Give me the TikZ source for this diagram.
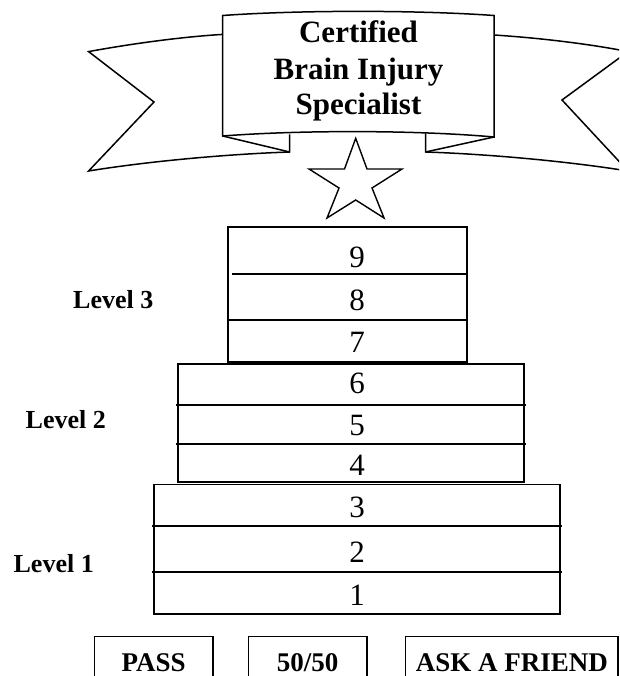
\documentclass[tikz,border=0pt]{standalone}
\usepackage{fontspec}
\setmainfont{Liberation Serif}
\begin{document}
\begin{tikzpicture}[x=1pt,y=-1pt,
  banner/.style={line width=1.5pt,line join=miter},
  tier/.style={line width=1.8pt},
  divider/.style={line width=1.2pt},
  digit/.style={anchor=base,inner sep=0pt,font=\fontsize{31}{33}\selectfont},
  lvl/.style={anchor=base,inner sep=0pt,font=\fontsize{26}{28}\selectfont\bfseries},
  title/.style={anchor=base,inner sep=0pt,font=\fontsize{31}{33}\selectfont\bfseries},
  btn/.style={anchor=base,inner sep=0pt,font=\fontsize{27}{30}\selectfont\bfseries},
  btnbox/.style={line width=1.8pt}]
\useasboundingbox (0,0) rectangle (619,676);
\clip (0,0) rectangle (619,676);
% ---------- banner ----------
% left wing
\draw[banner] (222.7,34.4) .. controls (180,37) and (130,44) .. (88.6,51.6)
  -- (154,102) -- (88.6,171)
  .. controls (150,161) and (230,154) .. (289.7,152) -- (289.7,134.5);
\draw[banner] (222.7,136) -- (289.7,152);
% right wing
\draw[banner] (494,35) .. controls (540,38) and (590,44) .. (628,51.6)
  -- (562,100) -- (628,171)
  .. controls (566,161) and (486,154) .. (425.5,152) -- (425.5,133.5);
\draw[banner] (494,137) -- (425.5,152);
% central panel
\draw[banner] (222.7,15.5) .. controls (300,10) and (416,10) .. (494,15.5)
  -- (494,137) .. controls (416,130) and (300,130) .. (222.7,136) -- cycle;
\node[title] (t1) at (358.5,42.7) {Certified};
\node[title] (t2) at (358.5,79.3) {Brain Injury};
\node[title] (t3) at (358.5,115) {Specialist};
% star
\draw[banner,line width=1.4pt] (355.7,138.3) -- (367,169) -- (402,169) -- (372,188)
  -- (384,218) -- (355.7,200) -- (327,218) -- (339,188) -- (309,169)
  -- (344.5,169) -- cycle;
% ---------- tiers ----------
% level 3
\draw[tier] (228,227) rectangle (467,362);
\draw[divider] (232,274) -- (467,274);
\draw[divider] (228,320) -- (467,320);
% level 2
\draw[tier] (178,364) rectangle (524,482);
\draw[divider] (176,405) -- (526,405);
\draw[divider] (176,444) -- (526,444);
% level 1
\draw[tier] (154,484.5) rectangle (560,614);
\draw[divider] (152,526) -- (562,526);
\draw[divider] (152,572) -- (562,572);
% digits
\node[digit] (d9) at (357,267.5) {9};
\node[digit] (d8) at (357,310.5) {8};
\node[digit] (d7) at (357,352.5) {7};
\node[digit] (d6) at (357,393.5) {6};
\node[digit] (d5) at (357,435.5) {5};
\node[digit] (d4) at (357,475.5) {4};
\node[digit] (d3) at (357,517.5) {3};
\node[digit] (d2) at (357,562.5) {2};
\node[digit] (d1) at (357,605.5) {1};
% level labels
\node[lvl] (l3) at (113.3,308) {Level 3};
\node[lvl] (l2) at (65.8,428) {Level 2};
\node[lvl] (l1) at (53.7,572) {Level 1};
% ---------- buttons ----------
\draw[btnbox] (94.4,636.5) rectangle (213,700);
\draw[btnbox] (248.4,636.5) rectangle (367,700);
\draw[btnbox] (405.5,636.5) rectangle (618,700);
\node[btn] (b1) at (153.7,671.5) {PASS};
\node[btn] (b2) at (307.7,671.5) {50/50};
\node[btn] (b3) at (511.8,671.5) {ASK A FRIEND};
\end{tikzpicture}
\end{document}
